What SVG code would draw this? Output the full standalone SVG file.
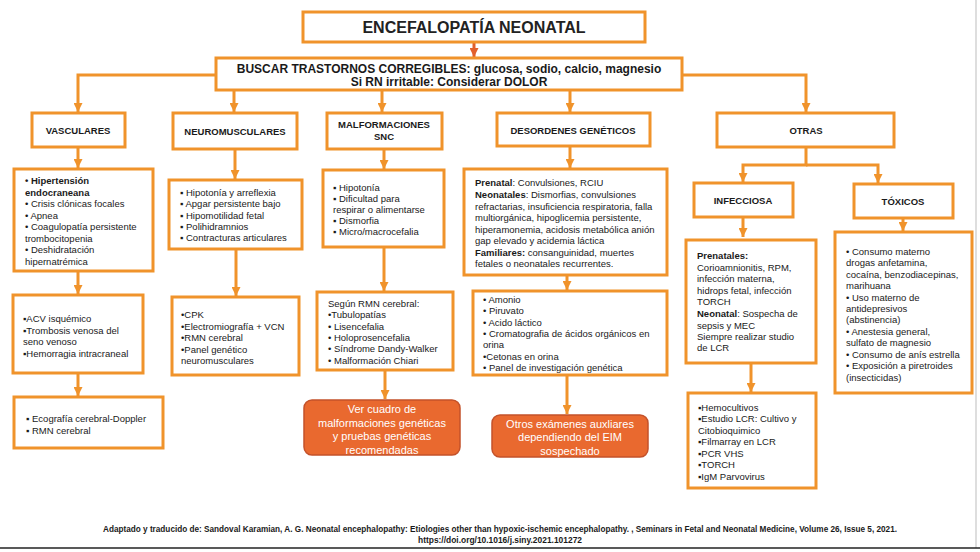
<svg xmlns="http://www.w3.org/2000/svg" width="980" height="552" viewBox="0 0 980 552">
<style>
.box{fill:#fff;stroke:#f0932b;stroke-width:3}
.conn{fill:none;stroke:#f0932b;stroke-width:3}
.t{font-family:"Liberation Sans",Arial,sans-serif;font-size:9.5px;fill:#1a1a1a}
.h{font-weight:bold;text-anchor:middle}
.b{font-weight:bold}
.ob{fill:#e9692f;stroke:#c4522a;stroke-width:1.5}
.ot{font-family:"Liberation Sans",Arial,sans-serif;font-size:11px;fill:#fff;text-anchor:middle}
</style>
<defs>
<marker id="ah" markerUnits="userSpaceOnUse" markerWidth="10" markerHeight="9" refX="9" refY="4.5" orient="auto">
<path d="M0,0 L9,4.5 L0,9 z" fill="#f0932b"/>
</marker>
<marker id="ahr" markerUnits="userSpaceOnUse" markerWidth="10" markerHeight="9" refX="9" refY="4.5" orient="auto">
<path d="M0,0 L9,4.5 L0,9 z" fill="#e2602c"/>
</marker>
</defs>
<rect width="980" height="552" fill="#fff"/>
<line x1="976" y1="0" x2="976" y2="548" stroke="#bdbdbd" stroke-width="1"/>
<line x1="0" y1="548" x2="980" y2="548" stroke="#222" stroke-width="1.5"/>

<g id="connectors">
<path class="conn" d="M474,43 V57" stroke="#e2602c" style="stroke:#e2602c" marker-end="url(#ahr)"/>
<path class="conn" d="M216,75 H78 V112" marker-end="url(#ah)"/>
<path class="conn" d="M234,90 V112" marker-end="url(#ah)"/>
<path class="conn" d="M382,90 V112" marker-end="url(#ah)"/>
<path class="conn" d="M570,90 V112" marker-end="url(#ah)"/>
<path class="conn" d="M682,75 H806 V112" marker-end="url(#ah)"/>
<path class="conn" d="M78,147 V168" marker-end="url(#ah)"/>
<path class="conn" d="M78,271 V294" marker-end="url(#ah)"/>
<path class="conn" d="M78,373 V396" marker-end="url(#ah)"/>
<path class="conn" d="M235,149 V179" marker-end="url(#ah)"/>
<path class="conn" d="M236,249 V296" marker-end="url(#ah)"/>
<path class="conn" d="M384,149 V169" marker-end="url(#ah)"/>
<path class="conn" d="M384,247 V291" marker-end="url(#ah)"/>
<path class="conn" d="M385,370 V399" marker-end="url(#ah)"/>
<path class="conn" d="M570,146 V168" marker-end="url(#ah)"/>
<path class="conn" d="M567,275 V290" marker-end="url(#ah)"/>
<path class="conn" d="M567,375 V414" marker-end="url(#ah)"/>
<path class="conn" d="M806,147 V165 H743 V182" marker-end="url(#ah)"/>
<path class="conn" d="M806,165 H878 V183" marker-end="url(#ah)"/>
<path class="conn" d="M743,217 V237" marker-end="url(#ah)"/>
<path class="conn" d="M751,363 V392" marker-end="url(#ah)"/>
<path class="conn" d="M903,218 V231" marker-end="url(#ah)"/>
</g>

<g id="title">
<rect class="box" x="303" y="12" width="342" height="30"/>
<text class="t h" x="474" y="33" style="font-size:16px;fill:#222">ENCEFALOPATÍA NEONATAL</text>
</g>

<g id="buscar">
<rect class="box" x="216" y="58" width="466" height="32"/>
<text class="t h" x="449" y="73" style="font-size:12px">BUSCAR TRASTORNOS CORREGIBLES: glucosa, sodio, calcio, magnesio</text>
<text class="t h" x="449" y="86" style="font-size:12px">Si RN irritable: Considerar DOLOR</text>
</g>

<g id="vasculares">
<rect class="box" x="32" y="113" width="93" height="34"/>
<text class="t h" x="78" y="134">VASCULARES</text>
</g>
<g id="neuromusculares">
<rect class="box" x="173" y="113" width="124" height="36"/>
<text class="t h" x="235" y="135">NEUROMUSCULARES</text>
</g>
<g id="malformaciones">
<rect class="box" x="327" y="113" width="115" height="36"/>
<text class="t h" x="384" y="128">MALFORMACIONES</text>
<text class="t h" x="384" y="140">SNC</text>
</g>
<g id="desordenes">
<rect class="box" x="497" y="113" width="153" height="33"/>
<text class="t h" x="573" y="134">DESORDENES GENÉTICOS</text>
</g>
<g id="otras">
<rect class="box" x="717" y="113" width="177" height="34"/>
<text class="t h" x="806" y="134">OTRAS</text>
</g>
<g id="infecciosa">
<rect class="box" x="694" y="183" width="99" height="34"/>
<text class="t h" x="743" y="204">INFECCIOSA</text>
</g>
<g id="toxicos">
<rect class="box" x="854" y="184" width="99" height="34"/>
<text class="t h" x="903" y="205">TÓXICOS</text>
</g>

<g id="vasc-clinica">
<rect class="box" x="14" y="169" width="139" height="102"/>
<text class="t" x="25" y="184"><tspan class="b">• Hipertensión</tspan><tspan x="25" dy="11.5" class="b">endocraneana</tspan><tspan x="25" dy="11.5">• Crisis clónicas focales</tspan><tspan x="25" dy="11.5">• Apnea</tspan><tspan x="25" dy="11.5">• Coagulopatía persistente</tspan><tspan x="25" dy="11.5">trombocitopenia</tspan><tspan x="25" dy="11.5">• Deshidratación</tspan><tspan x="25" dy="12">hipernatrémica</tspan></text>
</g>
<g id="vasc-causas">
<rect class="box" x="13" y="295" width="130" height="78"/>
<text class="t" x="23" y="322">▪ACV isquémico<tspan x="23" dy="11.5">▪Trombosis venosa del</tspan><tspan x="23" dy="11.5">seno venoso</tspan><tspan x="23" dy="11.5">▪Hemorragia intracraneal</tspan></text>
</g>
<g id="vasc-estudios">
<rect class="box" x="14" y="397" width="149" height="51"/>
<text class="t" x="26" y="422">▪ Ecografía cerebral-Doppler<tspan x="26" dy="11.5">▪ RMN cerebral</tspan></text>
</g>

<g id="neuro-clinica">
<rect class="box" x="169" y="180" width="133" height="69"/>
<text class="t" x="180" y="196">▪ Hipotonía y arreflexia<tspan x="180" dy="11.3">▪ Apgar persistente bajo</tspan><tspan x="180" dy="11.3">▪ Hipomotilidad fetal</tspan><tspan x="180" dy="11">▪ Polihidramnios</tspan><tspan x="180" dy="11">▪ Contracturas articulares</tspan></text>
</g>
<g id="neuro-estudios">
<rect class="box" x="172" y="297" width="127" height="78"/>
<text class="t" x="181" y="318">•CPK<tspan x="181" dy="11.5">•Electromiografía + VCN</tspan><tspan x="181" dy="11.5">•RMN cerebral</tspan><tspan x="181" dy="11.5">•Panel genético</tspan><tspan x="181" dy="11.5">neuromusculares</tspan></text>
</g>

<g id="malf-clinica">
<rect class="box" x="323" y="170" width="121" height="77"/>
<text class="t" x="333" y="191">▪ Hipotonía<tspan x="333" dy="11">▪ Dificultad para</tspan><tspan x="333" dy="11">respirar o alimentarse</tspan><tspan x="333" dy="11">▪ Dismorfia</tspan><tspan x="333" dy="11">▪ Micro/macrocefalia</tspan></text>
</g>
<g id="malf-rmn">
<rect class="box" x="317" y="292" width="136" height="78"/>
<text class="t" x="328" y="307">Según RMN cerebral:<tspan x="328" dy="11">•Tubulopatías</tspan><tspan x="328" dy="11.5">• Lisencefalia</tspan><tspan x="328" dy="11.3">• Holoprosencefalia</tspan><tspan x="328" dy="11.3">• Síndrome Dandy-Walker</tspan><tspan x="328" dy="11.8">• Malformación Chiari</tspan></text>
</g>
<g id="malf-ver">
<rect class="ob" x="304" y="400" width="156" height="55" rx="8"/>
<text class="ot" x="382" y="413">Ver cuadro de<tspan x="382" dy="13.5">malformaciones genéticas</tspan><tspan x="382" dy="13.5">y pruebas genéticas</tspan><tspan x="382" dy="13.5">recomendadas</tspan></text>
</g>

<g id="gen-clinica">
<rect class="box" x="464" y="169" width="203" height="106"/>
<text class="t" x="475" y="186"><tspan class="b">Prenatal</tspan>: Convulsiones, RCIU<tspan x="475" dy="11.5" class="b">Neonatales</tspan>: Dismorfias, convulsiones<tspan x="475" dy="12">refractarias, insuficiencia  respiratoria, falla</tspan><tspan x="475" dy="11.5">multiorgánica, hipoglicemia persistente,</tspan><tspan x="475" dy="11.5">hiperamonemia, acidosis metabólica anión</tspan><tspan x="475" dy="11.5">gap elevado y acidemia láctica</tspan><tspan x="475" dy="11.5" class="b">Familiares:</tspan> consanguinidad, muertes<tspan x="475" dy="11.5">fetales o neonatales recurrentes.</tspan></text>
</g>
<g id="gen-estudios">
<rect class="box" x="473" y="291" width="194" height="84"/>
<text class="t" x="483" y="303">• Amonio<tspan x="483" dy="11.3">• Piruvato</tspan><tspan x="483" dy="11.5">• Acido láctico</tspan><tspan x="483" dy="11.3">• Cromatografia de ácidos orgánicos  en</tspan><tspan x="483" dy="11.3">orina</tspan><tspan x="483" dy="11.5">•Cetonas en orina</tspan><tspan x="483" dy="11.3">• Panel de investigación genética</tspan></text>
</g>
<g id="gen-otros">
<rect class="ob" x="492" y="415" width="156" height="42" rx="8"/>
<text class="ot" x="570" y="428">Otros exámenes auxliares<tspan x="570" dy="13">dependiendo del EIM</tspan><tspan x="570" dy="13.5">sospechado</tspan></text>
</g>

<g id="inf-clinica">
<rect class="box" x="686" y="240" width="130" height="123"/>
<text class="t" x="697" y="259"><tspan class="b">Prenatales:</tspan><tspan x="697" dy="11.7">Corioamnionitis, RPM,</tspan><tspan x="697" dy="11.7">infección materna,</tspan><tspan x="697" dy="11.7">hidrops fetal, infección</tspan><tspan x="697" dy="11.3">TORCH</tspan><tspan x="697" dy="11.7" class="b">Neonatal</tspan>: Sospecha de<tspan x="697" dy="11.7">sepsis y MEC</tspan><tspan x="697" dy="11.3">Siempre realizar studio</tspan><tspan x="697" dy="11.3">de LCR</tspan></text>
</g>
<g id="inf-estudios">
<rect class="box" x="688" y="393" width="128" height="95"/>
<text class="t" x="698" y="411">▪Hemocultivos<tspan x="698" dy="11.3">▪Estudio LCR: Cultivo y</tspan><tspan x="698" dy="11.7">Citobioquimico</tspan><tspan x="698" dy="11.3">▪Filmarray en LCR</tspan><tspan x="698" dy="11.3">▪PCR VHS</tspan><tspan x="698" dy="11.7">▪TORCH</tspan><tspan x="698" dy="11.3">▪IgM Parvovirus</tspan></text>
</g>

<g id="tox-lista">
<rect class="box" x="835" y="232" width="137" height="161"/>
<text class="t" x="846" y="255">• Consumo materno<tspan x="846" dy="11.3">drogas anfetamina,</tspan><tspan x="846" dy="11.7">cocaína, benzodiacepinas,</tspan><tspan x="846" dy="11.3">marihuana</tspan><tspan x="846" dy="11.5">• Uso materno de</tspan><tspan x="846" dy="11.3">antidepresivos</tspan><tspan x="846" dy="11.3">(abstinencia)</tspan><tspan x="846" dy="11.7">• Anestesia general,</tspan><tspan x="846" dy="11.3">sulfato de magnesio</tspan><tspan x="846" dy="11.3">• Consumo de anís estrella</tspan><tspan x="846" dy="11.5">• Exposición a piretroides</tspan><tspan x="846" dy="11.3">(insecticidas)</tspan></text>
</g>

<g id="footer">
<text class="t b" x="500" y="532" text-anchor="middle" style="font-size:9px" textLength="794" lengthAdjust="spacingAndGlyphs">Adaptado y traducido de: Sandoval Karamian, A. G. Neonatal encephalopathy: Etiologies other than hypoxic-ischemic encephalopathy. , Seminars in Fetal and Neonatal Medicine, Volume 26, Issue 5, 2021.</text>
<text class="t b" x="500" y="543" text-anchor="middle" style="font-size:9px" textLength="164" lengthAdjust="spacingAndGlyphs">https://doi.org/10.1016/j.siny.2021.101272</text>
</g>
</svg>
